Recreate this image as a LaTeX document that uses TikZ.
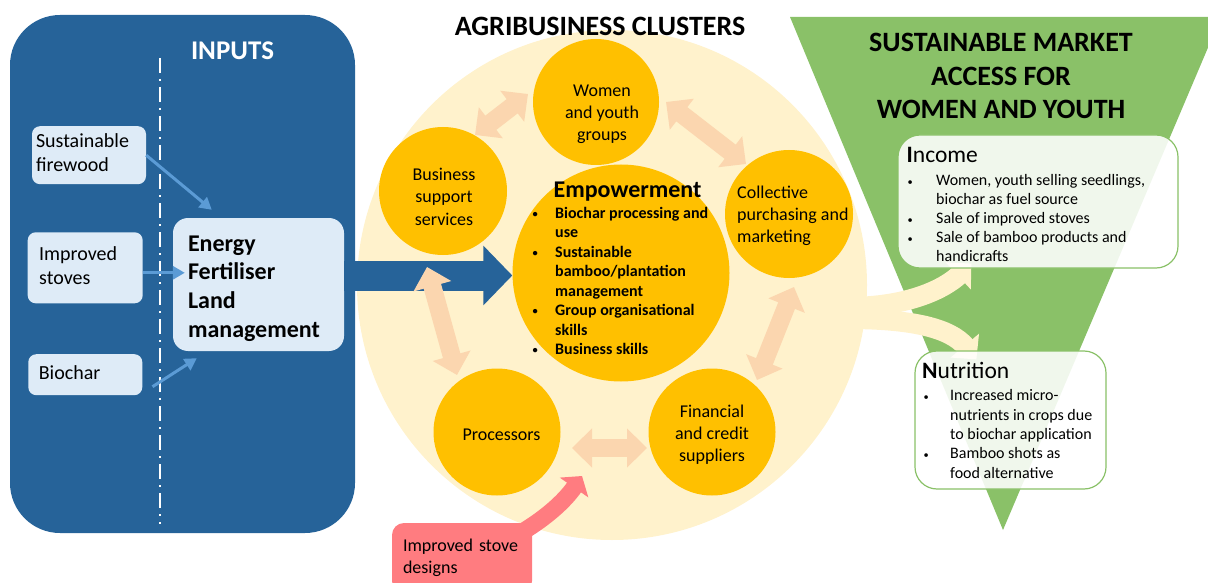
\documentclass[tikz,border=0pt]{standalone}
\usepackage{fontspec}
\usepackage{graphicx}
\setmainfont{Carlito}
\usetikzlibrary{arrows.meta,calc}
\pgfdeclarelayer{l1}
\pgfdeclarelayer{l2}
\pgfdeclarelayer{l3}
\pgfsetlayers{l1,l2,l3,main}
\definecolor{panelblue}{RGB}{38,99,153}
\definecolor{lightblue}{RGB}{222,235,247}
\definecolor{arrowblue}{RGB}{91,155,213}
\definecolor{paleyellow}{RGB}{255,242,204}
\definecolor{gold}{RGB}{255,192,0}
\definecolor{peach}{RGB}{251,214,175}
\definecolor{marketgreen}{RGB}{138,193,104}
\definecolor{salmon}{RGB}{255,124,128}
\newcommand\fsz[2]{\fontsize{#1}{#2}\selectfont}
\newcommand\bulx[1]{\makebox[#1][l]{\hspace*{1.5pt}\raisebox{0.6pt}{\scalebox{0.65}{\textbullet}}}}
\newcommand\indx[1]{\hspace*{#1}}
\tikzset{
  panelbox/.style={rectangle, rounded corners=50pt, fill=panelblue, inner sep=0pt},
  inbox/.style={rectangle, rounded corners=8pt, fill=lightblue, inner sep=0pt, align=left, font=\fsz{20}{24}},
  inarrow/.style={draw=arrowblue, line width=3pt, -{Triangle[length=12pt,width=13pt]}},
  bigarrow/.style={draw=panelblue, line width=30pt, -{Triangle[length=29pt,width=58pt]}},
  cluster/.style={circle, fill=gold, inner sep=0pt},
  ctext/.style={inner sep=0pt, align=center, font=\fsz{18}{22}},
  dblarrow/.style={draw=peach, line width=18pt, {Triangle[length=20pt,width=38pt]}-{Triangle[length=20pt,width=38pt]}},
  splitarrow/.style={draw=paleyellow, line width=20pt, -{Triangle[length=18pt,width=36pt]}},
  redarrow/.style={draw=salmon, line width=17pt, -{Triangle[length=14pt,width=34pt]}},
  stovebox/.style={rectangle, rounded corners=12pt, fill=salmon, inner sep=0pt, align=left, font=\fsz{18}{22}},
  outbox/.style={rectangle, rounded corners=22pt, fill=white, fill opacity=0.88, draw=marketgreen, line width=1.2pt, inner sep=0pt},
  heading/.style={inner sep=0pt},
  listtext/.style={inner sep=0pt, align=left, anchor=west},
}
\begin{document}
\begin{tikzpicture}[x=1pt,y=-1pt]
\useasboundingbox (0,0) rectangle (1208,583);
% ---------- background shapes
\begin{pgfonlayer}{l1}
  \fill[marketgreen] (790,17) -- (1208,17) -- (1208,47.6) -- (1003,530) -- cycle;
  \node[circle, fill=paleyellow, minimum size=510pt, inner sep=0pt] (agri) at (612,285) {};
\end{pgfonlayer}
% ---------- outcome boxes
\node[outbox, minimum width=280pt, minimum height=133pt] (inc) at (1038,201.5) {};
\node[outbox, minimum width=191pt, minimum height=138pt] (nut) at (1010.5,420) {};
\begin{pgfonlayer}{l2}
  \draw[splitarrow] ($(agri.east)+(-20,22)$) .. controls (910,307) and (945,288) .. ($(inc.south west)+(74,-5)$);
  \draw[splitarrow] ($(agri.east)+(-20,34)$) .. controls (912,319) and (950,328) .. ($(nut.north west)+(62,9)$);
  % inputs panel
  \node[panelbox, minimum width=345pt, minimum height=518pt] (inp) at (182.5,274) {};
  \draw[white, line width=2pt, dash pattern=on 15pt off 6pt on 2pt off 6pt] (160,58) -- (160,524);
  \node[inbox, minimum width=114pt, minimum height=58pt, text width=106pt] (sf) at (89,155.2) {\strut Sustainable\\firewood\strut};
  \node[inbox, minimum width=115pt, minimum height=71pt, text width=92pt] (is) at (85.2,267.8) {\strut Improved\\stoves\strut};
  \node[inbox, minimum width=114pt, minimum height=41pt, text width=93pt] (bc) at (85.3,374.7) {\strut Biochar};
  \node[inbox, rounded corners=15pt, minimum width=171pt, minimum height=133pt, text width=141pt, font=\fsz{24}{28.7}\bfseries] (en) at (258.5,284.5) {\rule{0pt}{28pt}Energy\\Fertiliser\\Land\\management\strut};
  \draw[inarrow] (sf.east) -- ($(en.north west)+(39,-8)$);
  \draw[inarrow] ($(is.east)+(0,5)$) -- ($(is.east -| en.west)+(12,5)$);
  \draw[inarrow] ($(bc.east)+(10,12)$) -- ($(en.south west)+(24,7)$);
\end{pgfonlayer}
\node[heading, text=white, font=\fsz{27}{32}\bfseries, anchor=base] (inpt) at (232.5,60) {INPUTS};
% ---------- cluster circles
\node[cluster, minimum size=126pt] (wyg) at (596,102) {};
\node[cluster, minimum size=128pt] (bss) at (443,191) {};
\node[cluster, minimum size=128pt] (cpm) at (789,214) {};
\node[cluster, minimum size=217pt] (emp) at (621,273) {};
\node[cluster, minimum size=127pt] (prc) at (497,432) {};
\node[cluster, minimum size=127pt] (fcs) at (712,432) {};
% ---------- stove designs box
\node[stovebox, minimum width=140pt, minimum height=70pt, text width=118pt] (rb) at (462,558) {\strut Improved stove\\designs\strut};
% ---------- arrows between parts
\coordinate (bt) at ($(emp.west)+(0,2.5)$);
\coordinate (p1a) at (475,135);
\coordinate (p1b) at (528,94);
\coordinate (p2a) at (666,102);
\coordinate (p2b) at (746,164);
\coordinate (p3a) at (794,287);
\coordinate (p3b) at (757,380);
\coordinate (p4a) at (427,267);
\coordinate (p4b) at (457,375);
\coordinate (p5a) at (572,448);
\coordinate (p5b) at (647,448);
\coordinate (rt) at (582,476);
\begin{pgfonlayer}{l3}
  \draw[bigarrow] (en.east |- bt) -- (bt);
  \draw[dblarrow] (p1a) -- (p1b);
  \draw[dblarrow] (p2a) -- (p2b);
  \draw[dblarrow] (p3a) -- (p3b);
  \draw[dblarrow] (p4a) -- (p4b);
  \draw[dblarrow] (p5a) -- (p5b);
  \draw[redarrow] ($(rb.north east)+(-8,8)$) .. controls (545,518) and (564,502) .. (rt);
\end{pgfonlayer}
% ---------- texts
\node[heading, font=\fsz{28}{34}\bfseries, anchor=base] (agt) at (600,36) {AGRIBUSINESS CLUSTERS};
\node[heading, font=\fsz{28}{33.5}\bfseries, align=center] (mkt) at (1001,78.8) {\strut SUSTAINABLE MARKET\\\strut ACCESS FOR\\\strut WOMEN AND YOUTH};
\node[ctext] (wygt) at (602,114.6) {\strut Women\\\strut and youth\\\strut groups};
\node[ctext] (bsst) at (444,198.6) {\strut Business\\\strut support\\\strut services};
\node[ctext, align=left, anchor=west] (cpmt) at (737,215.6) {\strut Collective\\\strut purchasing and\\\strut marketing};
\node[ctext, anchor=base] (prct) at (501.5,440) {Processors};
\node[ctext] (fcst) at (712,435) {\strut Financial\\\strut and credit\\\strut suppliers};
\node[heading, font=\fsz{24}{28}\bfseries, anchor=base] (empt) at (627.5,197) {Empowerment};
\node[listtext, font=\fsz{16}{19.5}\bfseries] (empb) at (531,282.35) {%
\strut\bulx{24pt}Biochar processing and\\
\strut\indx{24pt}use\\
\strut\bulx{24pt}Sustainable\\
\strut\indx{24pt}bamboo/plantation\\
\strut\indx{24pt}management\\
\strut\bulx{24pt}Group organisational\\
\strut\indx{24pt}skills\\
\strut\bulx{24pt}Business skills};
\node[heading, anchor=base west, font=\fsz{23.5}{28}] (inct) at (906.5,163) {\textbf{I}ncome};
\node[listtext, font=\fsz{16}{19}] (incb) at (906,219.9) {%
\strut\bulx{30pt}Women, youth selling seedlings,\\
\strut\indx{30pt}biochar as fuel source\\
\strut\bulx{30pt}Sale of improved stoves\\
\strut\bulx{30pt}Sale of bamboo products and\\
\strut\indx{30pt}handicrafts};
\node[heading, anchor=base west, font=\fsz{23.5}{28}] (nutt) at (922,378) {\textbf{N}utrition};
\node[listtext, font=\fsz{16}{19.4}] (nutb) at (922,435.6) {%
\strut\bulx{28pt}Increased micro-\\
\strut\indx{28pt}nutrients in crops due\\
\strut\indx{28pt}to biochar application\\
\strut\bulx{28pt}Bamboo shots as\\
\strut\indx{28pt}food alternative};
\end{tikzpicture}
\end{document}
